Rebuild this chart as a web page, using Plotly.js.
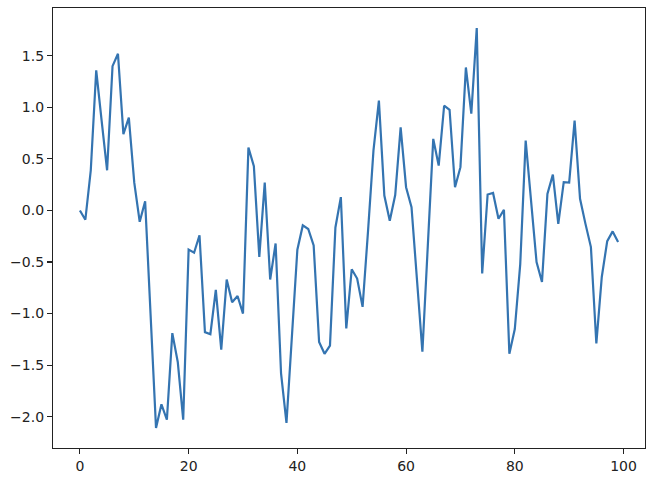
<!DOCTYPE html>
<html>
<head>
<meta charset="utf-8">
<script src="https://cdn.plot.ly/plotly-3.0.1.min.js"></script>
<style>
  html, body { margin: 0; padding: 0; background: #ffffff; }
  #chart { width: 654px; height: 487px; }
</style>
</head>
<body>
<div id="chart"></div>
<script>
// Series values (index 0..99)
const yValues = [
  0.0, -0.09, 0.39, 1.36, 0.87, 0.39, 1.40, 1.52, 0.74, 0.90,
  0.27, -0.11, 0.09, -1.0, -2.11, -1.88, -2.03, -1.19, -1.47, -2.03,
  -0.38, -0.41, -0.24, -1.18, -1.20, -0.77, -1.35, -0.67, -0.89, -0.83,
  -1.00, 0.61, 0.43, -0.45, 0.27, -0.67, -0.32, -1.58, -2.06, -1.22,
  -0.38, -0.145, -0.18, -0.34, -1.275, -1.39, -1.31, -0.165, 0.13, -1.145,
  -0.57, -0.66, -0.935, -0.2, 0.58, 1.065, 0.145, -0.10, 0.15, 0.806,
  0.226, 0.032, -0.67, -1.37, -0.34, 0.694, 0.435, 1.016, 0.977, 0.226,
  0.42, 1.387, 0.94, 1.77, -0.61, 0.155, 0.17, -0.08, 0.006, -1.39,
  -1.15, -0.52, 0.678, 0.1, -0.50, -0.694, 0.161, 0.348, -0.129, 0.274,
  0.27, 0.871, 0.113, -0.13, -0.355, -1.29, -0.645, -0.297, -0.203, -0.306
];
const xValues = yValues.map((_, i) => i);

const xTicks = [0, 20, 40, 60, 80, 100];
const yTicks = [-2.0, -1.5, -1.0, -0.5, 0.0, 0.5, 1.0, 1.5];

// matplotlib-style 5% margins
const xmin = Math.min(...xValues), xmax = Math.max(...xValues);
const ymin = Math.min(...yValues), ymax = Math.max(...yValues);
const xpad = (xmax - xmin) * 0.05, ypad = (ymax - ymin) * 0.05;

const trace = {
  x: xValues,
  y: yValues,
  type: 'scatter',
  mode: 'lines',
  line: { color: '#3474b1', width: 2.2 },
  hoverinfo: 'skip'
};

const axisCommon = {
  showgrid: false,
  zeroline: false,
  showline: true,
  mirror: true,
  linecolor: '#222222',
  linewidth: 1.1,
  ticks: 'outside',
  ticklen: 5,
  tickwidth: 1.1,
  tickcolor: '#222222',
  tickfont: { family: 'DejaVu Sans', size: 14, color: '#222222' }
};

const layout = {
  width: 654,
  height: 487,
  margin: { l: 53, r: 9, t: 8, b: 39, pad: 0 },
  paper_bgcolor: '#ffffff',
  plot_bgcolor: '#ffffff',
  showlegend: false,
  xaxis: Object.assign({}, axisCommon, {
    range: [xmin - xpad, xmax + xpad],
    tickmode: 'array',
    tickvals: xTicks,
    ticktext: xTicks.map(String)
  }),
  yaxis: Object.assign({}, axisCommon, {
    range: [ymin - ypad, ymax + ypad],
    tickmode: 'array',
    tickvals: yTicks,
    ticktext: yTicks.map(v => v.toFixed(1).replace('-', '\u2212'))
  })
};

Plotly.newPlot('chart', [trace], layout, { displayModeBar: false, staticPlot: true });
</script>
</body>
</html>
